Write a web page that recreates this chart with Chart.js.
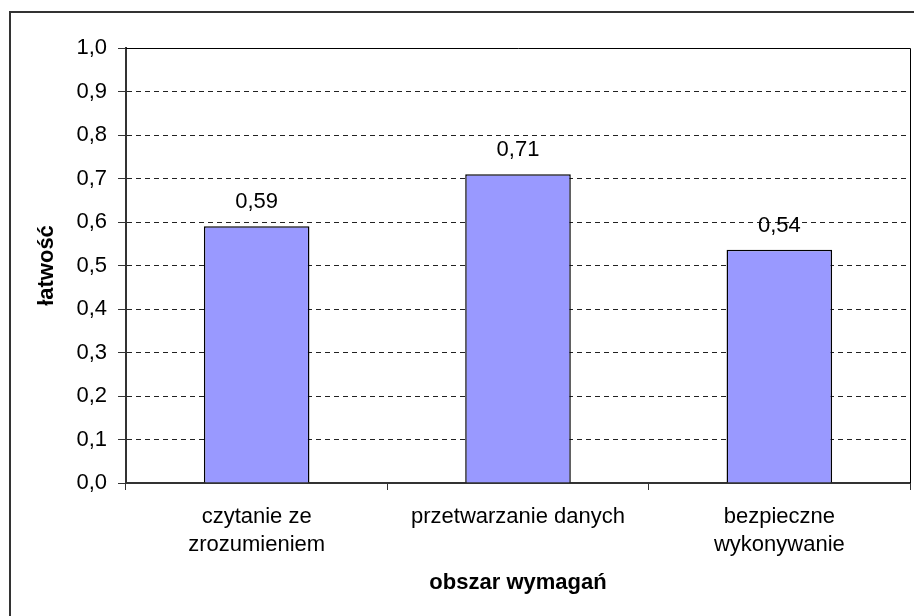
<!DOCTYPE html>
<html>
<head>
<meta charset="utf-8">
<script src="https://cdn.jsdelivr.net/npm/chart.js@4.4.0/dist/chart.umd.min.js"></script>
<style>
  body { margin: 0; background: #fff; }
  canvas { display: block; }
</style>
</head>
<body>
<canvas id="myChart" width="914" height="616"></canvas>
<script>
// data
const categories = [["czytanie ze", "zrozumieniem"], "przetwarzanie danych", ["bezpieczne", "wykonywanie"]];
const values = [0.59, 0.71, 0.536];
const yMin = 0;
const yMax = 1;
const yStep = 0.1;
const xTitle = "obszar wymagań";
const yTitle = "łatwość";

const fmt = (v, d) => v.toFixed(d).replace(".", ",");
const FONT = "'Liberation Sans', Arial, sans-serif";

Chart.defaults.font.family = FONT;
Chart.defaults.font.size = 22;
Chart.defaults.color = "#000";

//extra drawing: value labels, plot border, outer frame
const extras = {
  id: "extras",
  beforeDraw(chart) {
    const ctx = chart.ctx;
    ctx.save();
    ctx.fillStyle = "#fff";
    ctx.fillRect(0, 0, chart.width, chart.height);
    ctx.restore();
  },
  afterDatasetsDraw(chart) {
    const ctx = chart.ctx;
    const a = chart.chartArea;
    ctx.save();
    ctx.font = "22px " + FONT;
    ctx.fillStyle = "#000";
    ctx.textAlign = "center";
    ctx.textBaseline = "middle";
    chart.getDatasetMeta(0).data.forEach((bar, i) => {
      ctx.fillText(fmt(values[i], 2), bar.x, bar.y - 24);
    });

    ctx.strokeStyle = "#000";
    ctx.lineWidth = 1;
    ctx.beginPath();
    ctx.moveTo(a.left, a.top + 0.5);
    ctx.lineTo(a.right + 0.5, a.top + 0.5);
    ctx.lineTo(a.right + 0.5, a.bottom);
    ctx.stroke();

    ctx.strokeStyle = "#333";
    ctx.lineWidth = 2;
    ctx.beginPath();
    ctx.moveTo(10, 616);
    ctx.lineTo(10, 12);
    ctx.lineTo(914, 12);
    ctx.stroke();
    ctx.restore();
  },
};

const ctx = document.getElementById("myChart").getContext("2d");
const myChart = new Chart(ctx, {
  type: "bar",
  data: {
    labels: categories,
    datasets: [
      {
        data: values,
        backgroundColor: "#9999FF",
        borderColor: "#000",
        borderWidth: 1.5,
        categoryPercentage: 1,
        barPercentage: 0.404,
      },
    ],
  },
  options: {
    responsive: false,
    animation: false,
    layout: { padding: { top: 48, right: 4, left: 0, bottom: 0 } },
    plugins: {
      legend: { display: false },
      tooltip: { enabled: false },
    },
    scales: {
      x: {
        afterFit: (s) => { s.height = 133; },
        grid: {
          offset: true,
          drawOnChartArea: false,
          drawTicks: true,
          tickLength: 7,
          tickColor: "#333",
        },
        border: { color: "#333", width: 2 },
        ticks: {
          padding: 13,
          maxRotation: 0,
          font: { size: 22, lineHeight: 1.27 },
        },
        title: {
          display: true,
          text: xTitle,
          font: { size: 22, weight: "bold" },
          padding: { top: 0, bottom: 20 },
        },
      },
      y: {
        min: yMin,
        max: yMax,
        afterFit: (s) => { s.width = 126; },
        grid: {
          color: (c) => (c.tick && (c.tick.value === yMax || c.tick.value === yMin) ? "rgba(0,0,0,0)" : "#222"),
          tickBorderDash: [],
          tickColor: "#333",
          tickLength: 8,
        },
        border: { color: "#333", width: 2, dash: [5, 4] },
        ticks: {
          stepSize: yStep,
          padding: 11,
          callback: (v) => fmt(v, 1),
        },
        title: {
          display: true,
          text: yTitle,
          font: { size: 22, weight: "bold" },
          padding: { top: 34, bottom: 0 },
        },
      },
    },
  },
  plugins: [extras],
});
</script>
</body>
</html>
